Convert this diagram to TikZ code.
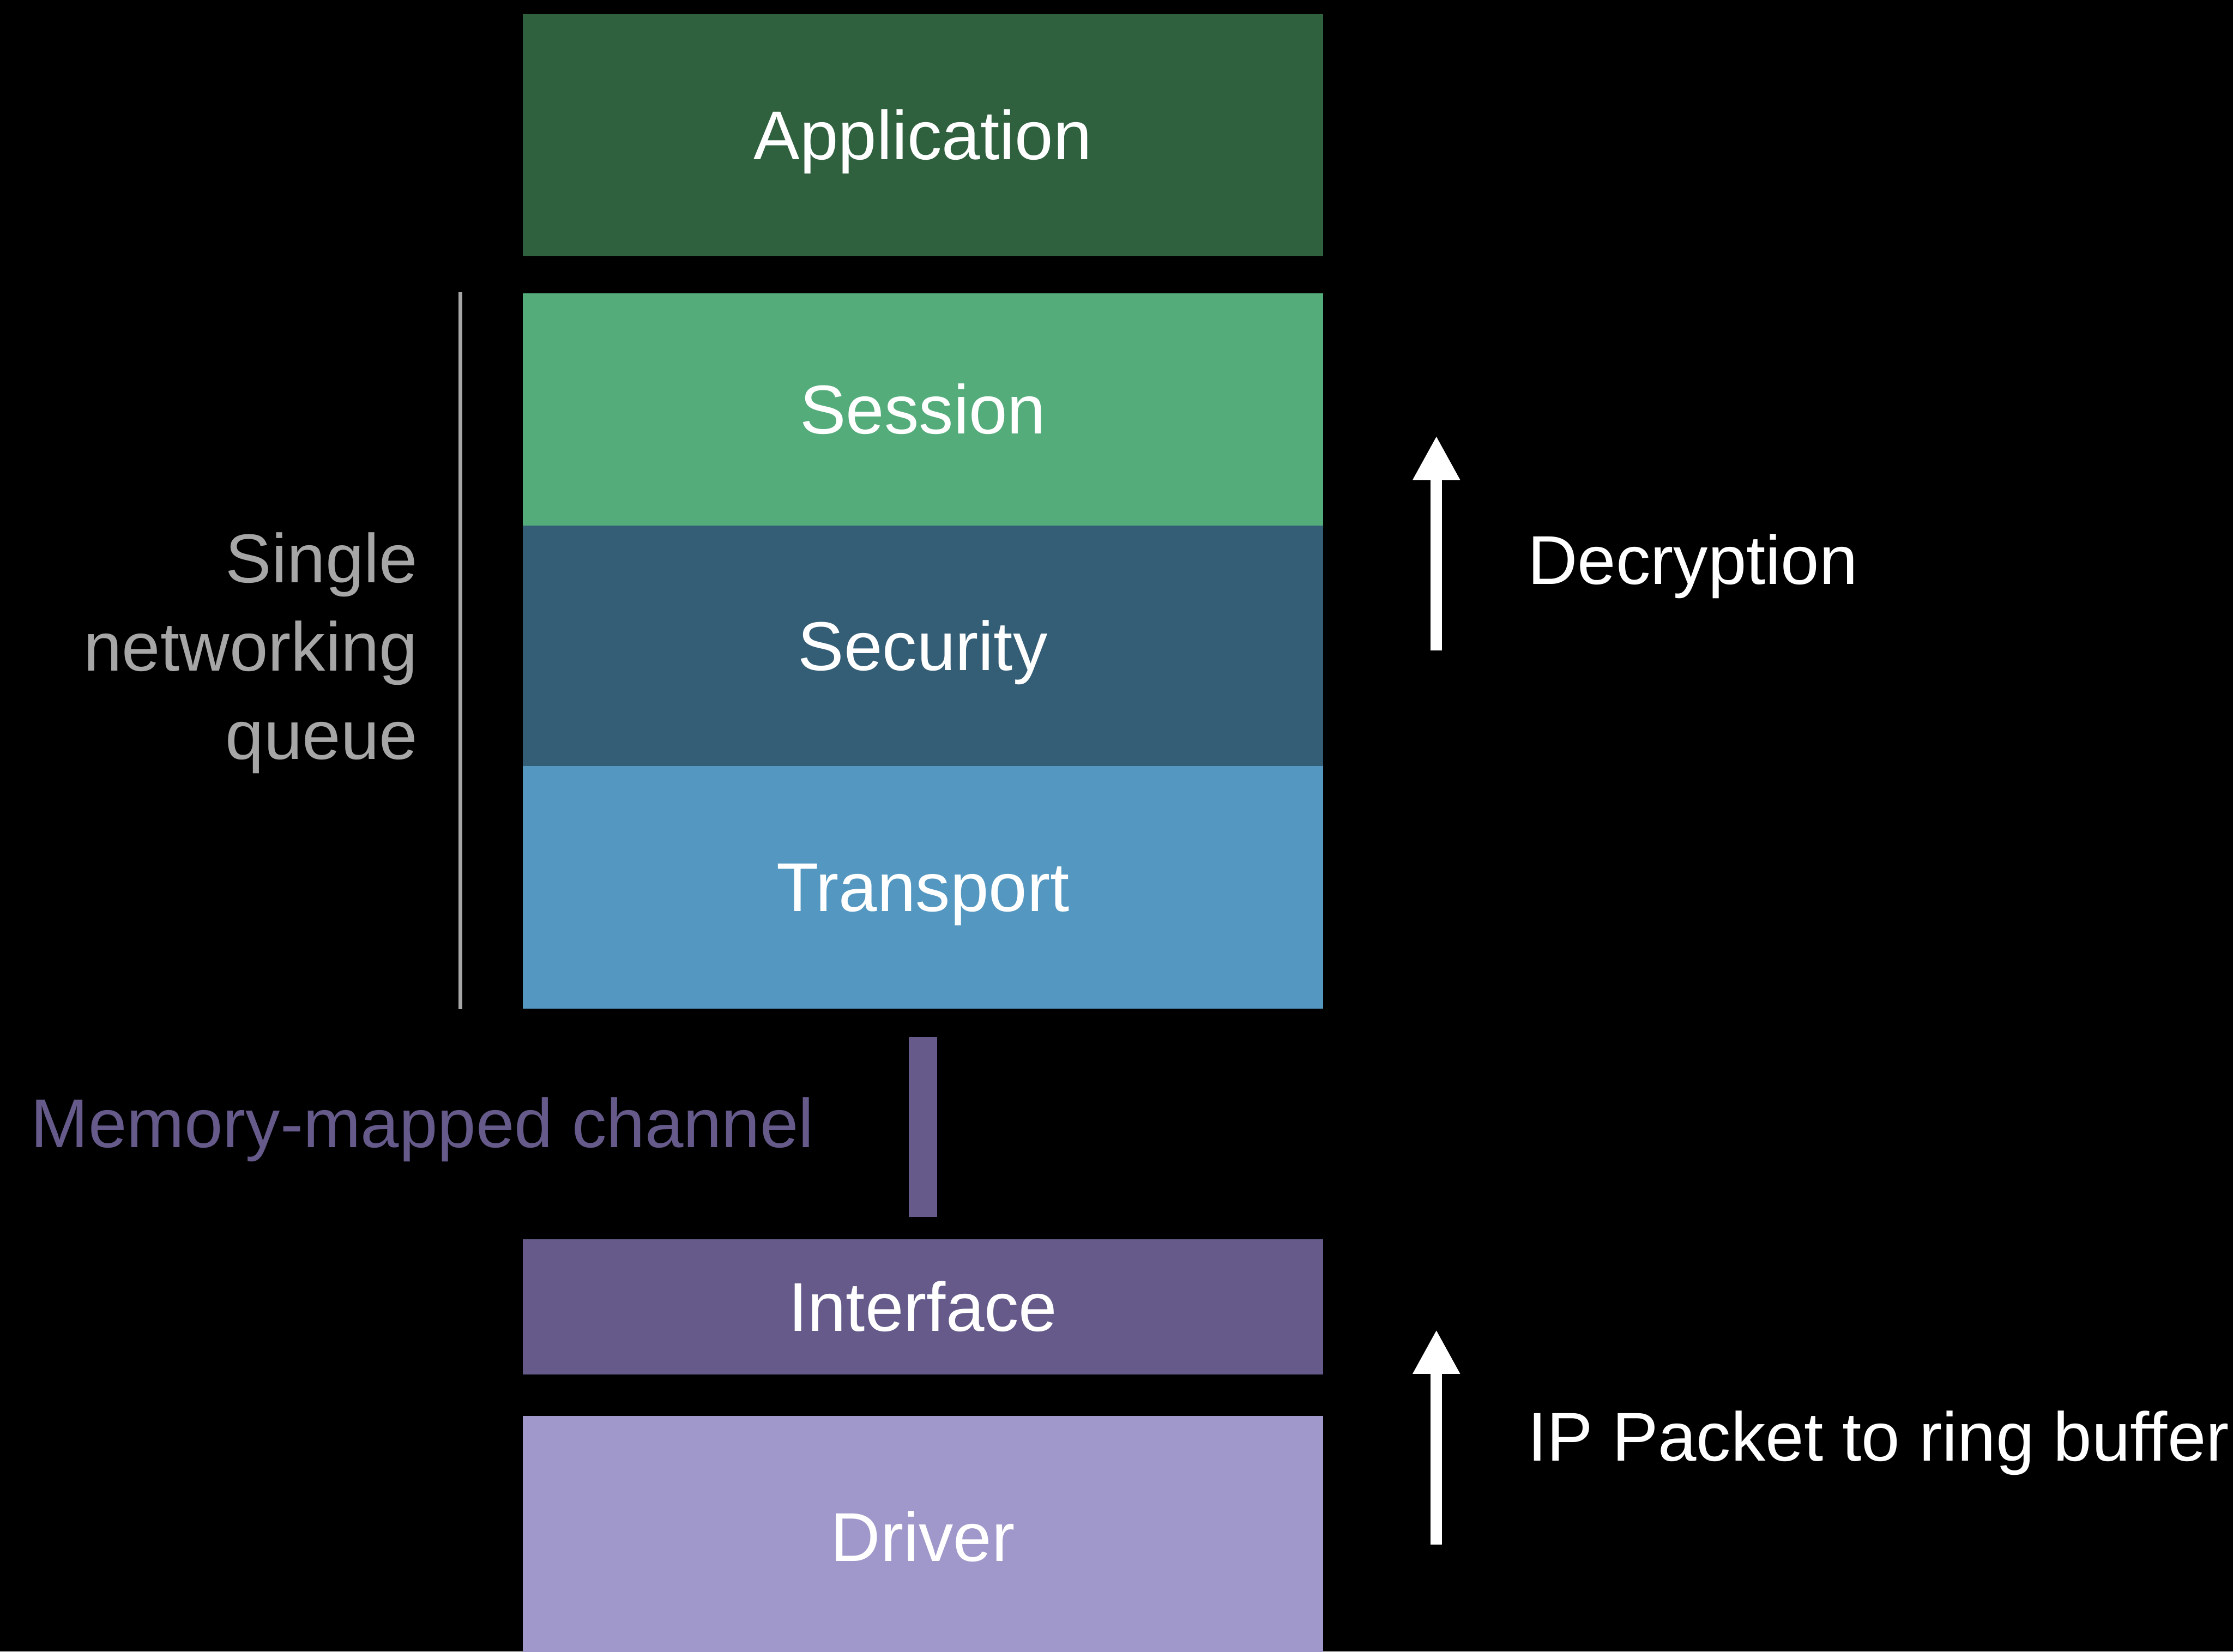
\documentclass[tikz,border=0pt]{standalone}
\usepackage{fontspec}
\setmainfont{Liberation Sans}
\usepackage{xcolor}
\usetikzlibrary{arrows.meta, positioning, calc}

\definecolor{appgreen}{HTML}{30613F}
\definecolor{sessgreen}{HTML}{54AC7A}
\definecolor{secblue}{HTML}{345D76}
\definecolor{transblue}{HTML}{5498C2}
\definecolor{ifacepurple}{HTML}{655A8A}
\definecolor{drvlavender}{HTML}{A098CB}
\definecolor{queuegray}{HTML}{A6A6A6}

\begin{document}
\begin{tikzpicture}[
    font=\fontsize{13.8}{17.6}\selectfont,
    layerbox/.style={minimum width=5.62cm, inner sep=0pt, text=white, text height=0.34cm, text depth=0cm},
    sidelabel/.style={inner sep=0pt, anchor=base west},
    upflow/.style={-{Triangle[length=0.31cm, width=0.31cm]}, line width=0.08cm, color=white},
    chanbar/.style={line width=0.2cm, color=ifacepurple, shorten <=0.193cm, shorten >=0.147cm},
    queueline/.style={line width=0.03cm, color=queuegray}
]

% === BACKGROUND ===
\fill[black] (0,0) rectangle (15.68,11.596);
\useasboundingbox (0,0) rectangle (15.68,11.596);

% === LAYERS ===
\node[layerbox, fill=appgreen, minimum height=1.70cm] (app) at (6.48, 10.646) {Application};
\node[layerbox, fill=sessgreen, minimum height=1.63cm] (sess) at (6.48, 8.721) {Session};
\node[layerbox, fill=secblue, minimum height=1.69cm] (sec) at (6.48, 7.061) {Security};
\node[layerbox, fill=transblue, minimum height=1.70cm] (trans) at (6.48, 5.366) {Transport};
\node[layerbox, fill=ifacepurple, minimum height=0.952cm] (iface) at (6.48, 2.42) {Interface};
\node[layerbox, fill=drvlavender, minimum height=1.70cm] (drv) at (6.48, 0.806) {Driver};

% === CHANNEL ===
\draw[chanbar] (trans) -- (iface);
\node[sidelabel, text=ifacepurple] (mmap) at (0.21, 3.538) {Memory-mapped channel};

% === QUEUE BRACKET ===
\draw[queueline] ([xshift=-0.43cm]sess.north west) -- ([xshift=-0.43cm]trans.south west);
\node[inner sep=0pt, anchor=base east, align=right, text=queuegray] (queue) at (2.94, 6.267) {Single\\networking\\queue};

% === FLOW ARROWS ===
\coordinate (decrtail) at (10.086, 7.028);
\coordinate (decrhead) at (10.086, 8.536);
\draw[upflow] (decrtail) -- (decrhead);
\node[sidelabel, text=white] (decr) at (10.72, 7.496) {Decryption};

\coordinate (ringtail) at (10.086, 0.753);
\coordinate (ringhead) at (10.086, 2.26);
\draw[upflow] (ringtail) -- (ringhead);
\node[sidelabel, text=white] (ring) at (10.72, 1.339) {IP Packet to ring buffer};

\end{tikzpicture}
\end{document}
